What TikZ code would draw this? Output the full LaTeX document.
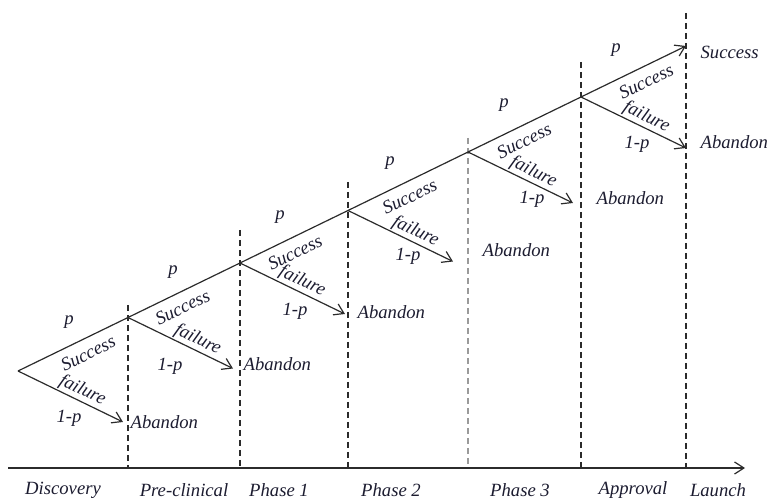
\documentclass[tikz,border=0pt]{standalone}
\usepackage{fontspec}
\setmainfont{Liberation Serif}
\usetikzlibrary{arrows.meta,positioning,calc}
\definecolor{TreeInk}{HTML}{2B2B2B}
\definecolor{TreeText}{HTML}{1C1C30}
\definecolor{StageGrey}{HTML}{9A9A9A}

\begin{document}
\begin{tikzpicture}[x=0.75pt,y=-0.75pt,
	font=\fontsize{14}{16}\selectfont\itshape,
	branch/.style={TreeInk,line width=0.9pt},
	tip/.style={-{Straight Barb[length=7pt,width=9pt,line width=0.9pt]}},
	stage/.style={TreeInk,line width=0.8pt,dash pattern=on 4.5pt off 3pt},
	lbl/.style={text=TreeText,inner sep=1pt}]
		\useasboundingbox (0,0) rectangle (769,499);
		% branch points on the success line
		\coordinate (b0) at (18,371);
		\coordinate (b1) at (128,317.5);
		\coordinate (b2) at (240,263);
		\coordinate (b3) at (348,210.5);
		\coordinate (b4) at (468,152);
		\coordinate (b5) at (581,97);
		\coordinate (b6) at (686,46);
		% stage boundaries and time axis
		\foreach \x/\top/\c in {128/305/TreeInk,240/230/TreeInk,348/182/TreeInk,468/138/StageGrey,581/62/TreeInk,686/13/TreeInk}
			\draw[stage,\c] (\x,\top) -- (\x,468);
		\coordinate (ax0) at (8,468);
		\coordinate (ax1) at (745,468);
		\draw[branch,tip] (ax0) -- (ax1);
		\draw[branch,tip] (b0) -- (b1) -- (b2) -- (b3) -- (b4) -- (b5) -- (b6);
		% success / failure branches
		\foreach \i/\j/\ps/\pf in {0/1/0.58/0.57,1/2/0.43/0.62,2/3/0.45/0.55,3/4/0.46/0.6,4/5/0.44/0.58,5/6/0.56/0.58}{
			\path (b\i) -- (b\j) node[lbl,sloped,below=5pt,pos=\ps] (s\i) {Success};
			\draw[branch,tip] (b\i) -- ++(105,51) coordinate (f\i)
				node[lbl,sloped,text depth=0pt,above=3pt,pos=\pf] (x\i) {failure};
		}
		% probabilities
		\node[lbl] (p0) at (69,322) {p};
		\node[lbl] (p1) at (173,272) {p};
		\node[lbl] (p2) at (280,217) {p};
		\node[lbl] (p3) at (390,163) {p};
		\node[lbl] (p4) at (504,105) {p};
		\node[lbl] (p5) at (616,50) {p};
		\node[lbl] (q0) at (69,418) {1-p};
		\node[lbl] (q1) at (170,366) {1-p};
		\node[lbl] (q2) at (295,311) {1-p};
		\node[lbl] (q3) at (408,256) {1-p};
		\node[lbl] (q4) at (532,199) {1-p};
		\node[lbl] (q5) at (637,144) {1-p};
		% outcomes
		\node[lbl,anchor=west] (ab0) at (129,422) {Abandon};
		\node[lbl,anchor=west] (ab1) at (242,364) {Abandon};
		\node[lbl,anchor=west] (ab2) at (356,312) {Abandon};
		\node[lbl,anchor=west] (ab3) at (481,250) {Abandon};
		\node[lbl,anchor=west] (ab4) at (595,198) {Abandon};
		\node[lbl,anchor=west] (ab5) at (699,142) {Abandon};
		\node[lbl,anchor=west] (win) at (699,52) {Success};
		% stage names
		\node[lbl] (st0) at (63,490) {Discovery};
		\node[lbl] (st1) at (184,490) {Pre-clinical};
		\node[lbl] (st2) at (279,490) {Phase 1};
		\node[lbl] (st3) at (391,490) {Phase 2};
		\node[lbl] (st4) at (520,490) {Phase 3};
		\node[lbl] (st5) at (633,490) {Approval};
		\node[lbl] (st6) at (718,490) {Launch};
	\end{tikzpicture}
\end{document}
